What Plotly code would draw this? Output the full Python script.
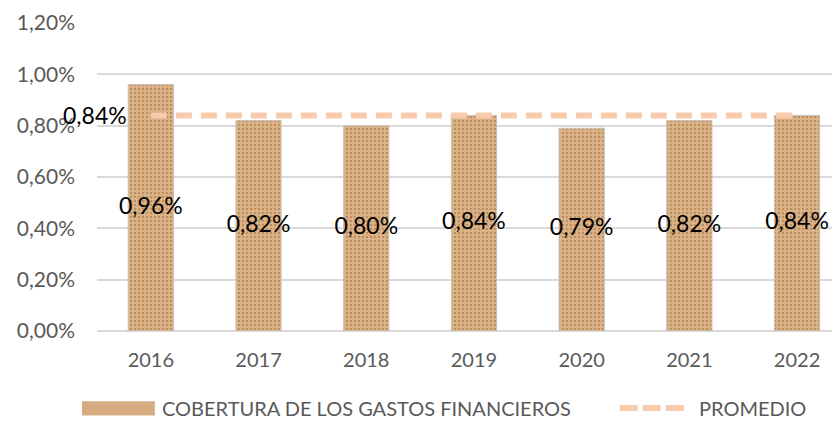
import plotly.graph_objects as go

years = ["2016", "2017", "2018", "2019", "2020", "2021", "2022"]
cobertura = [0.96, 0.82, 0.80, 0.84, 0.79, 0.82, 0.84]
promedio_valor = 0.84
promedio = [promedio_valor] * len(years)
y_ticks = [0.0, 0.2, 0.4, 0.6, 0.8, 1.0, 1.2]
serie_bar = "COBERTURA DE LOS GASTOS FINANCIEROS"
serie_line = "PROMEDIO"

def fmt(v):
    return f"{v:.2f}".replace(".", ",") + "%"

FONT = "Lato"
GRAY = "#595959"
BAR_BG = "#DDB388"
BAR_FG = "#BE8F62"
LINE_C = "#F8CBAD"

fig = go.Figure()

fig.add_trace(go.Bar(
    x=years, y=cobertura, name=serie_bar,
    width=0.42,
    marker=dict(
        color=BAR_BG,
        line=dict(color="#C9C2BA", width=1),
        pattern=dict(shape=".", fgcolor=BAR_FG, bgcolor=BAR_BG,
                     size=4, solidity=0.3, fillmode="replace"),
    ),
    hoverinfo="skip", showlegend=False,
))

fig.add_trace(go.Scatter(
    x=years, y=promedio, name=serie_line, mode="lines",
    line=dict(color=LINE_C, width=6, dash="16px,9px"),
    hoverinfo="skip", showlegend=False,
))

# data labels at the middle of each bar
fig.add_trace(go.Scatter(
    x=years, y=[v / 2 for v in cobertura], mode="text",
    text=[fmt(v) for v in cobertura],
    textfont=dict(family=FONT, size=23, color="#000000"),
    showlegend=False, hoverinfo="skip", cliponaxis=False,
))

# label of the average line, left of its first point
fig.add_annotation(
    x=years.index(years[0]), y=promedio[0], xref="x", yref="y",
    text=fmt(promedio_valor),
    xanchor="right", yanchor="middle", xshift=-22, showarrow=False,
    font=dict(family=FONT, size=23, color="#000000"),
)

# legend (Excel style: wide swatch + long dash sample)
leg_y = -0.25
fig.add_shape(type="rect", xref="paper", yref="paper",
              x0=-0.020, x1=0.077, y0=-0.228, y1=-0.274,
              fillcolor="#D6AB80", line=dict(width=0), layer="above")
fig.add_annotation(x=0.084, y=leg_y, xref="paper", yref="paper",
                   text=serie_bar, showarrow=False, xanchor="left", yanchor="middle",
                   font=dict(family=FONT, size=20, color=GRAY))
fig.add_shape(type="line", xref="paper", yref="paper",
              x0=0.696, x1=0.783, y0=leg_y, y1=leg_y,
              line=dict(color=LINE_C, width=6, dash="18px,5px"))
fig.add_annotation(x=0.799, y=leg_y, xref="paper", yref="paper",
                   text=serie_line, showarrow=False, xanchor="left", yanchor="middle",
                   font=dict(family=FONT, size=20, color=GRAY))

fig.update_layout(
    width=840, height=422,
    margin=dict(l=89, r=0, t=15, b=99),
    paper_bgcolor="white", plot_bgcolor="white",
    separators=",.",
    font=dict(family=FONT, size=20, color=GRAY),
    showlegend=False,
    xaxis=dict(
        type="category", range=[-0.5, 6.473],
        showgrid=False, showline=False, zeroline=False,
        ticks="outside", ticklen=11, tickcolor="rgba(0,0,0,0)",
        tickfont=dict(family=FONT, size=20, color=GRAY),
    ),
    yaxis=dict(
        range=[0, 1.2], tickvals=y_ticks,
        ticktext=[fmt(v) for v in y_ticks],
        showgrid=True, gridcolor="#D9D9D9", gridwidth=1.5,
        zeroline=True, zerolinecolor="#D9D9D9", zerolinewidth=1.5,
        showline=False, ticklabelstandoff=21,
        tickfont=dict(family=FONT, size=21, color=GRAY),
    ),
)

fig.write_html("out.html")
